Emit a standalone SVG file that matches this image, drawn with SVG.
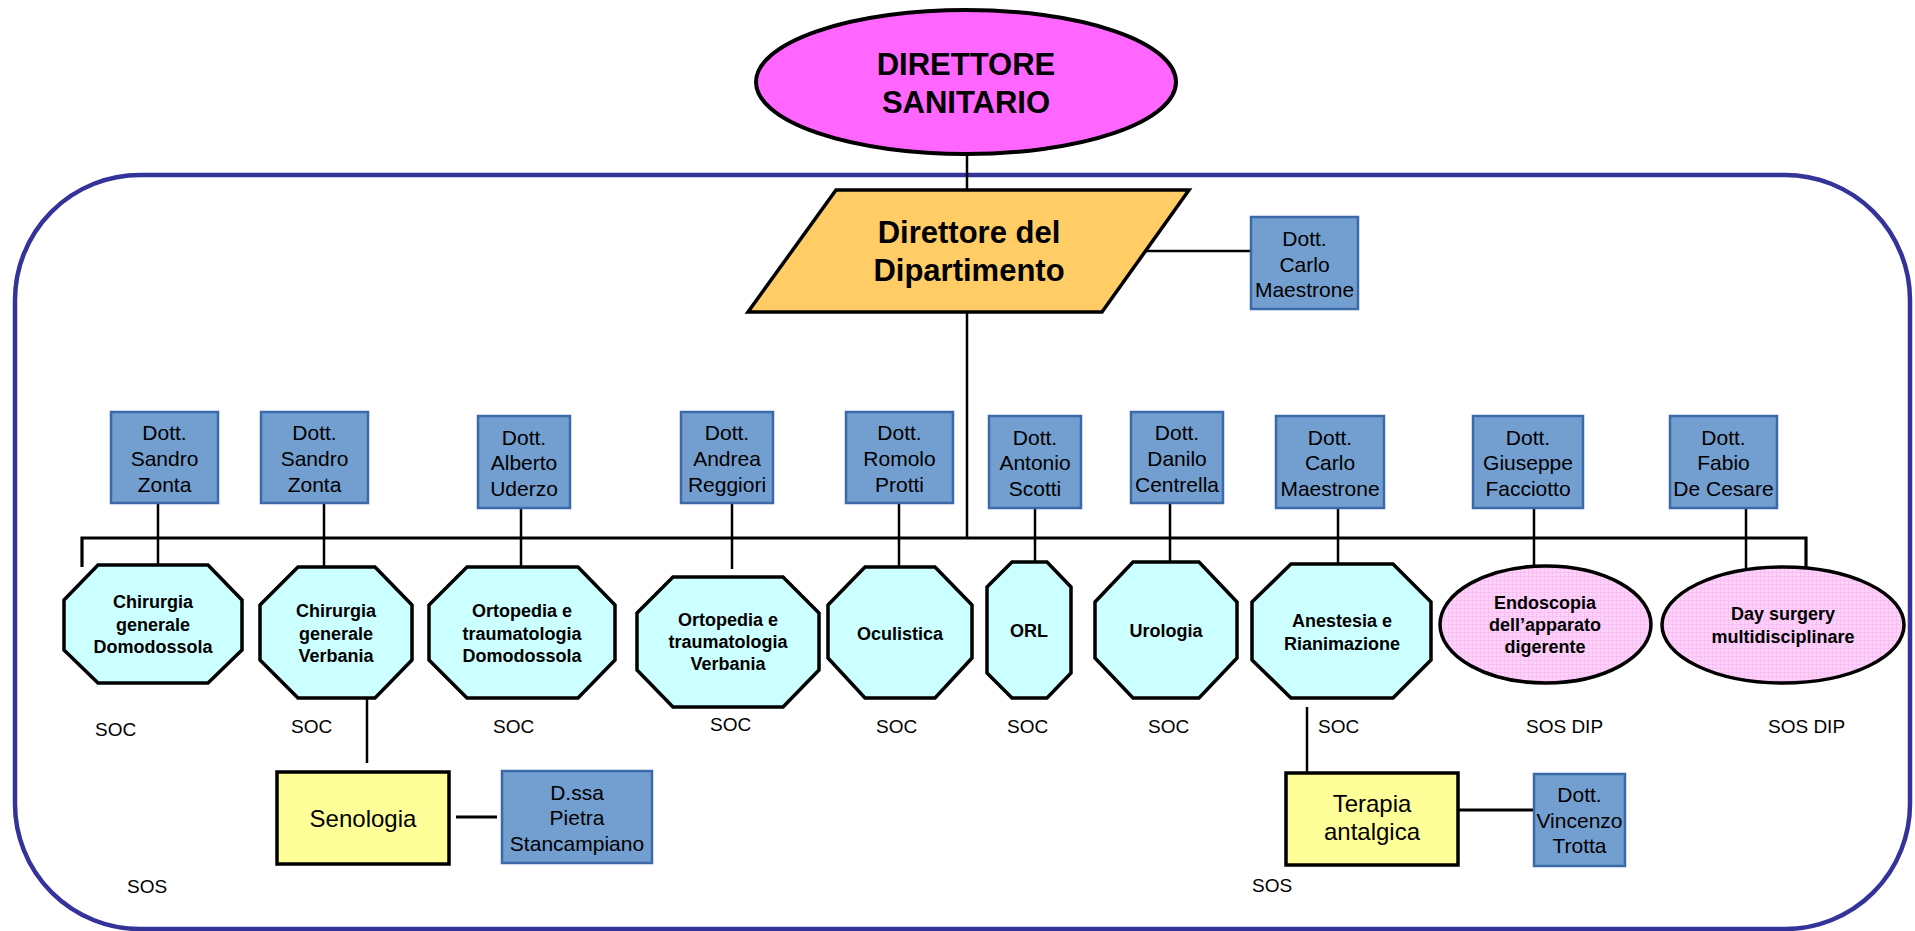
<svg xmlns="http://www.w3.org/2000/svg" width="1915" height="931" viewBox="0 0 1915 931">
  <defs>
    <pattern id="pinkgrid" width="4" height="4" patternUnits="userSpaceOnUse">
      <rect width="4" height="4" fill="#FFD2FC"/>
      <path d="M0 0.5H4M0.5 0V4" stroke="#F6BDF2" stroke-width="0.8"/>
    </pattern>
  </defs>
  <style>
    text { font-family: "Liberation Sans", Arial, sans-serif; fill: #000; }
    .big { font-size: 31px; font-weight: bold; text-anchor: middle; }
    .dott { font-size: 21px; text-anchor: middle; }
    .oct { font-size: 18px; font-weight: bold; text-anchor: middle; }
    .lbl { font-size: 19px; }
    .yel { font-size: 24px; text-anchor: middle; }
    .bluebox { fill: #729FCF; stroke: #3C6AA8; stroke-width: 2.5; }
    .octagon { fill: #CCFFFF; stroke: #000; stroke-width: 3.5; stroke-linejoin: miter; }
    .sos { fill: url(#pinkgrid); stroke: #000; stroke-width: 3.5; }
    .yellow { fill: #FFFF99; stroke: #000; stroke-width: 3.5; }
    .conn { stroke: #000; stroke-width: 2.5; fill: none; }
    .bus { stroke: #000; stroke-width: 3.2; fill: none; }
  </style>
  <rect width="1915" height="931" fill="#FFFFFF"/>

  <!-- department frame -->
  <g id="department-frame">
    <rect x="15" y="175" width="1895" height="754" rx="125" ry="125" fill="none" stroke="#333399" stroke-width="4.5"/>
  </g>

  <!-- connectors -->
  <g id="connectors">
    <line class="conn" x1="967" y1="150" x2="967" y2="538"/>
    <line class="conn" x1="1138" y1="251" x2="1251" y2="251"/>
    <polyline class="bus" points="82,567 82,538 1806,538 1806,567"/>
    <line class="conn" x1="158" y1="503" x2="158" y2="565"/>
    <line class="conn" x1="324" y1="503" x2="324" y2="567"/>
    <line class="conn" x1="521" y1="508" x2="521" y2="567"/>
    <line class="conn" x1="732" y1="503" x2="732" y2="569"/>
    <line class="conn" x1="899" y1="503" x2="899" y2="567"/>
    <line class="conn" x1="1035" y1="508" x2="1035" y2="562"/>
    <line class="conn" x1="1170" y1="503" x2="1170" y2="562"/>
    <line class="conn" x1="1338" y1="508" x2="1338" y2="564"/>
    <line class="conn" x1="1534" y1="508" x2="1534" y2="567"/>
    <line class="conn" x1="1746" y1="508" x2="1746" y2="570"/>
    <line class="conn" x1="367" y1="698" x2="367" y2="763"/>
    <line class="bus" x1="456" y1="817" x2="497" y2="817"/>
    <line class="conn" x1="1307" y1="707" x2="1307" y2="773"/>
    <line class="bus" x1="1458" y1="810" x2="1534" y2="810"/>
  </g>

  <g id="direttore-sanitario">
    <ellipse cx="966" cy="82" rx="210" ry="72" fill="#FF66FF" stroke="#000" stroke-width="4"/>
    <text class="big" x="966" y="75">DIRETTORE</text>
    <text class="big" x="966" y="113">SANITARIO</text>
  </g>

  <g id="direttore-dipartimento">
    <polygon points="836,190 1189,190 1102,312 748,312" fill="#FFCC66" stroke="#000" stroke-width="3.5"/>
    <text class="big" x="969" y="243">Direttore del</text>
    <text class="big" x="969" y="281">Dipartimento</text>
  </g>

  <g id="dott-carlo-maestrone-dir">
    <rect class="bluebox" x="1251" y="217" width="107" height="92"/>
    <text class="dott" x="1304.5" y="246">Dott.</text>
    <text class="dott" x="1304.5" y="272">Carlo</text>
    <text class="dott" x="1304.5" y="297">Maestrone</text>
  </g>

  <!-- head boxes -->
  <g id="dott-sandro-zonta-1">
    <rect class="bluebox" x="111" y="412" width="107" height="91"/>
    <text class="dott" x="164.5" y="440">Dott.</text>
    <text class="dott" x="164.5" y="466">Sandro</text>
    <text class="dott" x="164.5" y="492">Zonta</text>
  </g>
  <g id="dott-sandro-zonta-2">
    <rect class="bluebox" x="261" y="412" width="107" height="91"/>
    <text class="dott" x="314.5" y="440">Dott.</text>
    <text class="dott" x="314.5" y="466">Sandro</text>
    <text class="dott" x="314.5" y="492">Zonta</text>
  </g>
  <g id="dott-alberto-uderzo">
    <rect class="bluebox" x="478" y="416" width="92" height="92"/>
    <text class="dott" x="524" y="445">Dott.</text>
    <text class="dott" x="524" y="470">Alberto</text>
    <text class="dott" x="524" y="496">Uderzo</text>
  </g>
  <g id="dott-andrea-reggiori">
    <rect class="bluebox" x="681" y="412" width="92" height="91"/>
    <text class="dott" x="727" y="440">Dott.</text>
    <text class="dott" x="727" y="466">Andrea</text>
    <text class="dott" x="727" y="492">Reggiori</text>
  </g>
  <g id="dott-romolo-protti">
    <rect class="bluebox" x="846" y="412" width="107" height="91"/>
    <text class="dott" x="899.5" y="440">Dott.</text>
    <text class="dott" x="899.5" y="466">Romolo</text>
    <text class="dott" x="899.5" y="492">Protti</text>
  </g>
  <g id="dott-antonio-scotti">
    <rect class="bluebox" x="989" y="416" width="92" height="92"/>
    <text class="dott" x="1035" y="445">Dott.</text>
    <text class="dott" x="1035" y="470">Antonio</text>
    <text class="dott" x="1035" y="496">Scotti</text>
  </g>
  <g id="dott-danilo-centrella">
    <rect class="bluebox" x="1131" y="412" width="92" height="91"/>
    <text class="dott" x="1177" y="440">Dott.</text>
    <text class="dott" x="1177" y="466">Danilo</text>
    <text class="dott" x="1177" y="492">Centrella</text>
  </g>
  <g id="dott-carlo-maestrone">
    <rect class="bluebox" x="1276" y="416" width="108" height="92"/>
    <text class="dott" x="1330" y="445">Dott.</text>
    <text class="dott" x="1330" y="470">Carlo</text>
    <text class="dott" x="1330" y="496">Maestrone</text>
  </g>
  <g id="dott-giuseppe-facciotto">
    <rect class="bluebox" x="1473" y="416" width="110" height="92"/>
    <text class="dott" x="1528" y="445">Dott.</text>
    <text class="dott" x="1528" y="470">Giuseppe</text>
    <text class="dott" x="1528" y="496">Facciotto</text>
  </g>
  <g id="dott-fabio-de-cesare">
    <rect class="bluebox" x="1670" y="416" width="107" height="92"/>
    <text class="dott" x="1723.5" y="445">Dott.</text>
    <text class="dott" x="1723.5" y="470">Fabio</text>
    <text class="dott" x="1723.5" y="496">De Cesare</text>
  </g>

  <!-- units -->
  <g id="chirurgia-domodossola">
    <polygon class="octagon" points="98,565 208,565 242,600 242,650 208,683 98,683 64,650 64,600"/>
    <text class="oct" x="153" y="608">Chirurgia</text>
    <text class="oct" x="153" y="631">generale</text>
    <text class="oct" x="153" y="653">Domodossola</text>
  </g>
  <g id="chirurgia-verbania">
    <polygon class="octagon" points="298,567 375,567 412,605 412,660 375,698 298,698 260,660 260,605"/>
    <text class="oct" x="336" y="617">Chirurgia</text>
    <text class="oct" x="336" y="640">generale</text>
    <text class="oct" x="336" y="662">Verbania</text>
  </g>
  <g id="ortopedia-domodossola">
    <polygon class="octagon" points="467,567 578,567 615,605 615,660 578,698 467,698 429,660 429,605"/>
    <text class="oct" x="522" y="617">Ortopedia e</text>
    <text class="oct" x="522" y="640">traumatologia</text>
    <text class="oct" x="522" y="662">Domodossola</text>
  </g>
  <g id="ortopedia-verbania">
    <polygon class="octagon" points="673,577 783,577 819,613 819,670 783,707 673,707 637,670 637,613"/>
    <text class="oct" x="728" y="626">Ortopedia e</text>
    <text class="oct" x="728" y="648">traumatologia</text>
    <text class="oct" x="728" y="670">Verbania</text>
  </g>
  <g id="oculistica">
    <polygon class="octagon" points="865,567 935,567 972,605 972,658 935,698 865,698 828,658 828,605"/>
    <text class="oct" x="900" y="640">Oculistica</text>
  </g>
  <g id="orl">
    <polygon class="octagon" points="1012,562 1047,562 1071,587 1071,673 1047,698 1012,698 987,673 987,587"/>
    <text class="oct" x="1029" y="637">ORL</text>
  </g>
  <g id="urologia">
    <polygon class="octagon" points="1133,562 1199,562 1237,602 1237,658 1199,698 1133,698 1095,658 1095,602"/>
    <text class="oct" x="1166" y="637">Urologia</text>
  </g>
  <g id="anestesia">
    <polygon class="octagon" points="1291,564 1393,564 1431,602 1431,660 1393,698 1291,698 1252,660 1252,602"/>
    <text class="oct" x="1342" y="627">Anestesia e</text>
    <text class="oct" x="1342" y="650">Rianimazione</text>
  </g>
  <g id="endoscopia">
    <ellipse class="sos" cx="1545.5" cy="624.5" rx="105.5" ry="58.5"/>
    <text class="oct" x="1545" y="609">Endoscopia</text>
    <text class="oct" x="1545" y="631">dell’apparato</text>
    <text class="oct" x="1545" y="653">digerente</text>
  </g>
  <g id="day-surgery">
    <ellipse class="sos" cx="1783" cy="625" rx="121" ry="58"/>
    <text class="oct" x="1783" y="620">Day surgery</text>
    <text class="oct" x="1783" y="643">multidisciplinare</text>
  </g>

  <g id="senologia">
    <rect class="yellow" x="277" y="772" width="172" height="92"/>
    <text class="yel" x="363" y="827">Senologia</text>
  </g>
  <g id="dssa-pietra-stancampiano">
    <rect class="bluebox" x="502" y="771" width="150" height="92"/>
    <text class="dott" x="577" y="800">D.ssa</text>
    <text class="dott" x="577" y="825">Pietra</text>
    <text class="dott" x="577" y="851">Stancampiano</text>
  </g>
  <g id="terapia-antalgica">
    <rect class="yellow" x="1286" y="773" width="172" height="92"/>
    <text class="yel" x="1372" y="812">Terapia</text>
    <text class="yel" x="1372" y="840">antalgica</text>
  </g>
  <g id="dott-vincenzo-trotta">
    <rect class="bluebox" x="1534" y="774" width="91" height="92"/>
    <text class="dott" x="1579.5" y="802">Dott.</text>
    <text class="dott" x="1579.5" y="828">Vincenzo</text>
    <text class="dott" x="1579.5" y="853">Trotta</text>
  </g>

  <!-- type labels -->
  <g id="labels">
    <text class="lbl" x="95" y="736">SOC</text>
    <text class="lbl" x="291" y="733">SOC</text>
    <text class="lbl" x="493" y="733">SOC</text>
    <text class="lbl" x="710" y="731">SOC</text>
    <text class="lbl" x="876" y="733">SOC</text>
    <text class="lbl" x="1007" y="733">SOC</text>
    <text class="lbl" x="1148" y="733">SOC</text>
    <text class="lbl" x="1318" y="733">SOC</text>
    <text class="lbl" x="1526" y="733">SOS DIP</text>
    <text class="lbl" x="1768" y="733">SOS DIP</text>
    <text class="lbl" x="127" y="893">SOS</text>
    <text class="lbl" x="1252" y="892">SOS</text>
  </g>
</svg>
